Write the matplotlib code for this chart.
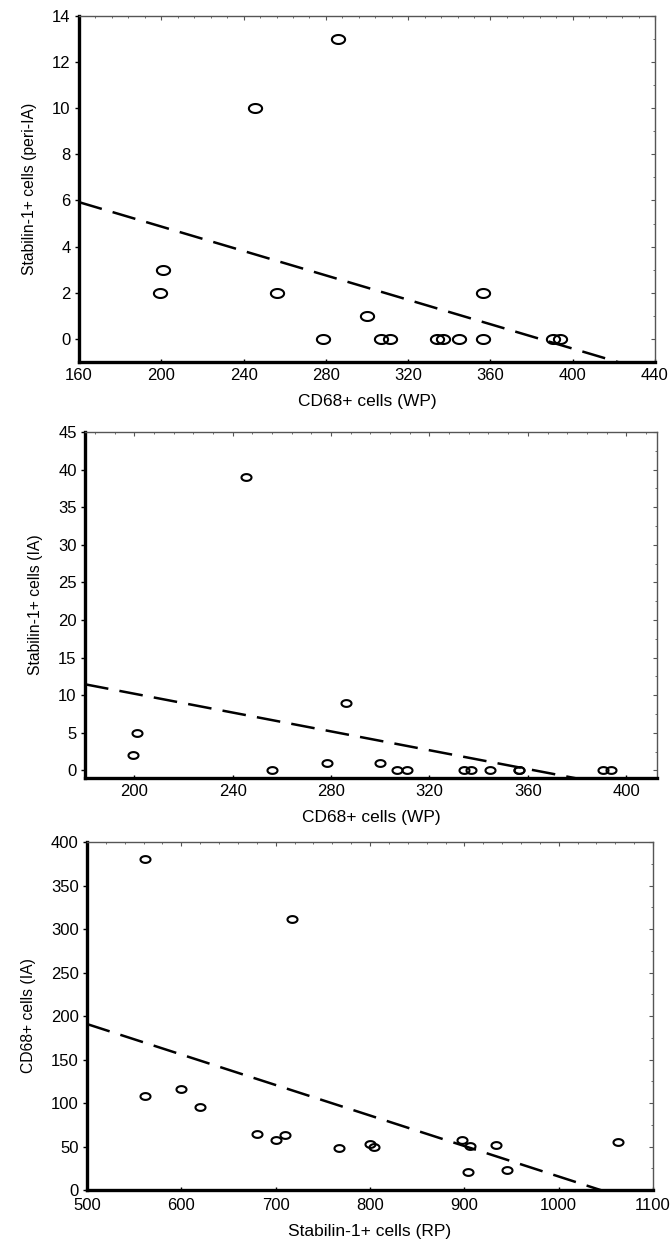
import numpy as np
import matplotlib
matplotlib.use('Agg')
import matplotlib.pyplot as plt
from matplotlib.path import Path
from matplotlib.ticker import MultipleLocator, AutoMinorLocator

plt.rcParams['font.family'] = ['Liberation Sans', 'DejaVu Sans']

# CD68+ cells (WP), shared by the two upper plots
wp = [199.5, 201, 245.5, 256, 278.5, 286, 300, 307, 311, 334, 337, 344.5, 356.5, 356.5, 390.5, 394]
stab_peri_ia = [2, 3, 10, 2, 0, 13, 1, 0, 0, 0, 0, 0, 2, 0, 0, 0]
stab_ia = [2, 5, 39, 0, 1, 9, 1, 0, 0, 0, 0, 0, 0, 0, 0, 0]

# bottom plot
stab_rp = [561, 561, 600, 620, 717, 680, 700, 710, 767, 800, 804, 898, 906, 904, 934, 945, 1063]
cd68_ia = [380, 108, 116, 95, 312, 65, 58, 63, 48, 53, 49, 58, 51, 21, 52, 23, 55]

# slightly flattened open circle like the original
t = np.linspace(0, 2 * np.pi, 60)
ell = Path(np.column_stack([np.cos(t), 0.68 * np.sin(t)]), closed=True)

fig = plt.figure(figsize=(6.72, 12.46), dpi=100)

panels = [
    dict(rect=[0.1176, 0.7095, 0.8571, 0.2777], x=wp, y=stab_peri_ia,
         xlim=(160, 440), ylim=(-1, 14), xstep=40, ystep=2, ms=9.5, xpad=4.5,
         xlabel='CD68+ cells (WP)', ylabel='Stabilin-1+ cells (peri-IA)'),
    dict(rect=[0.1265, 0.3756, 0.8512, 0.2777], x=wp, y=stab_ia,
         xlim=(180, 412.5), ylim=(-1, 45), xstep=40, ystep=5, ms=7.2, xpad=4.5,
         xlabel='CD68+ cells (WP)', ylabel='Stabilin-1+ cells (IA)'),
    dict(rect=[0.1295, 0.0449, 0.8423, 0.2793], x=stab_rp, y=cd68_ia,
         xlim=(500, 1100), ylim=(0, 400), xstep=100, ystep=50, ms=7.2, xpad=6,
         xlabel='Stabilin-1+ cells (RP)', ylabel='CD68+ cells (IA)'),
]

for p in panels:
    ax = fig.add_axes(p['rect'])
    ax.plot(p['x'], p['y'], linestyle='none', marker=ell, ms=p['ms'],
            mfc='none', mec='black', mew=1.5, zorder=3)

    # least squares line
    k, b = np.polyfit(p['x'], p['y'], 1)
    xx = np.array(p['xlim'])
    ax.plot(xx, k * xx + b, color='black', lw=1.8, linestyle=(0, (9.5, 4.5)), zorder=2)

    ax.set_xlim(p['xlim'])
    ax.set_ylim(p['ylim'])
    ax.xaxis.set_major_locator(MultipleLocator(p['xstep']))
    ax.yaxis.set_major_locator(MultipleLocator(p['ystep']))

    for s in ['left', 'bottom']:
        ax.spines[s].set_linewidth(2.4)
        ax.spines[s].set_color('black')
    for s in ['top', 'right']:
        ax.spines[s].set_linewidth(1.0)
        ax.spines[s].set_color('#555555')

    ax.tick_params(axis='x', direction='in', length=2.5, width=1, pad=p['xpad'], labelsize=12)
    ax.tick_params(axis='y', direction='out', length=3, width=1, pad=3, labelsize=12)

    top = ax.secondary_xaxis('top')
    top.xaxis.set_major_locator(MultipleLocator(p['xstep']))
    top.xaxis.set_minor_locator(AutoMinorLocator(5))
    top.tick_params(which='major', direction='in', length=3, width=0.8, color='#555555', labeltop=False)
    top.tick_params(which='minor', direction='in', length=1.5, width=0.6, color='#555555')
    top.spines['top'].set_visible(False)

    right = ax.secondary_yaxis('right')
    right.yaxis.set_major_locator(MultipleLocator(p['ystep']))
    right.yaxis.set_minor_locator(AutoMinorLocator(2))
    right.tick_params(which='major', direction='in', length=3, width=0.8, color='#555555', labelright=False)
    right.tick_params(which='minor', direction='in', length=1.5, width=0.6, color='#555555')
    right.spines['right'].set_visible(False)

    ax.set_xlabel(p['xlabel'], fontsize=12.5, labelpad=8)
    ax.set_ylabel(p['ylabel'], fontsize=11.3, labelpad=11)

fig.savefig('out.png', dpi=100)
